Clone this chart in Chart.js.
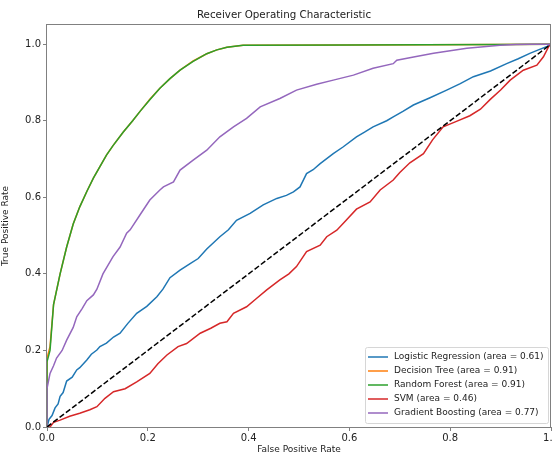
<!DOCTYPE html>
<html>
<head>
<meta charset="utf-8">
<script src="https://cdn.jsdelivr.net/npm/chart.js@4"></script>
<style>
  html, body { margin: 0; padding: 0; background: #fff; }
  #wrap { width: 552px; height: 455px; }
</style>
</head>
<body>
<div id="wrap"><canvas id="rocChart"></canvas></div>
<script>
// ROC curve points (false positive rate / true positive rate)
const lrFpr = [0, 0.004, 0.01, 0.016, 0.022, 0.026, 0.032, 0.039, 0.05, 0.059, 0.065, 0.079, 0.088, 0.099, 0.105, 0.118, 0.132, 0.145, 0.16, 0.178, 0.198, 0.218, 0.23, 0.244, 0.264, 0.284, 0.3, 0.317, 0.343, 0.36, 0.376, 0.403, 0.429, 0.456, 0.475, 0.489, 0.502, 0.515, 0.528, 0.542, 0.568, 0.588, 0.614, 0.63, 0.647, 0.674, 0.687, 0.707, 0.727, 0.76, 0.793, 0.82, 0.846, 0.88, 0.912, 0.935, 0.958, 0.975, 0.991, 1.0];
const lrTpr = [0, 0.02, 0.03, 0.05, 0.06, 0.08, 0.09, 0.12, 0.13, 0.149, 0.155, 0.175, 0.19, 0.201, 0.21, 0.219, 0.235, 0.245, 0.27, 0.297, 0.315, 0.34, 0.36, 0.39, 0.41, 0.427, 0.44, 0.465, 0.497, 0.515, 0.54, 0.558, 0.58, 0.597, 0.605, 0.614, 0.627, 0.662, 0.672, 0.688, 0.714, 0.732, 0.758, 0.77, 0.784, 0.8, 0.81, 0.825, 0.841, 0.86, 0.88, 0.897, 0.915, 0.93, 0.949, 0.962, 0.976, 0.985, 0.993, 1.0];

const dtFpr = [0, 0, 0.006, 0.013, 0.026, 0.039, 0.052, 0.065, 0.079, 0.092, 0.105, 0.118, 0.131, 0.151, 0.17, 0.185, 0.204, 0.224, 0.244, 0.264, 0.29, 0.317, 0.337, 0.357, 0.389, 0.6, 0.9, 1.0];
const dtTpr = [0, 0.18, 0.21, 0.32, 0.4, 0.47, 0.53, 0.575, 0.615, 0.65, 0.68, 0.71, 0.735, 0.77, 0.8, 0.825, 0.856, 0.885, 0.91, 0.932, 0.956, 0.975, 0.985, 0.992, 0.997, 0.998, 0.999, 1.0];

const rfFpr = [0, 0, 0.006, 0.013, 0.026, 0.039, 0.052, 0.065, 0.079, 0.092, 0.105, 0.118, 0.131, 0.151, 0.17, 0.185, 0.204, 0.224, 0.244, 0.264, 0.29, 0.317, 0.337, 0.357, 0.389, 0.6, 0.9, 1.0];
const rfTpr = [0, 0.17, 0.2, 0.32, 0.4, 0.47, 0.53, 0.575, 0.615, 0.65, 0.68, 0.71, 0.735, 0.77, 0.8, 0.825, 0.855, 0.885, 0.91, 0.932, 0.955, 0.975, 0.985, 0.992, 0.997, 0.998, 0.999, 1.0];

const svmFpr = [0, 0.006, 0.013, 0.026, 0.045, 0.065, 0.085, 0.099, 0.115, 0.132, 0.155, 0.178, 0.204, 0.22, 0.238, 0.26, 0.277, 0.304, 0.325, 0.343, 0.357, 0.37, 0.396, 0.415, 0.436, 0.462, 0.48, 0.495, 0.515, 0.542, 0.555, 0.575, 0.588, 0.614, 0.641, 0.661, 0.687, 0.70, 0.72, 0.747, 0.765, 0.786, 0.81, 0.839, 0.86, 0.879, 0.9, 0.919, 0.945, 0.972, 0.985, 0.995, 1.0];
const svmTpr = [0, 0, 0.012, 0.018, 0.028, 0.036, 0.045, 0.053, 0.075, 0.092, 0.1, 0.118, 0.14, 0.165, 0.188, 0.21, 0.218, 0.245, 0.258, 0.271, 0.275, 0.297, 0.314, 0.335, 0.358, 0.384, 0.4, 0.419, 0.458, 0.475, 0.497, 0.514, 0.532, 0.569, 0.588, 0.619, 0.645, 0.665, 0.69, 0.714, 0.75, 0.784, 0.797, 0.813, 0.83, 0.855, 0.88, 0.906, 0.932, 0.945, 0.967, 0.993, 1.0];

const gbFpr = [0, 0, 0.006, 0.013, 0.019, 0.03, 0.039, 0.052, 0.059, 0.07, 0.079, 0.092, 0.099, 0.111, 0.131, 0.145, 0.158, 0.165, 0.185, 0.204, 0.224, 0.231, 0.251, 0.264, 0.29, 0.317, 0.343, 0.37, 0.396, 0.423, 0.462, 0.495, 0.535, 0.568, 0.608, 0.647, 0.687, 0.694, 0.73, 0.767, 0.8, 0.833, 0.866, 0.899, 0.93, 0.96, 1.0];
const gbTpr = [0, 0.1, 0.14, 0.16, 0.18, 0.2, 0.227, 0.26, 0.288, 0.31, 0.33, 0.345, 0.36, 0.4, 0.445, 0.47, 0.506, 0.515, 0.555, 0.593, 0.619, 0.627, 0.64, 0.671, 0.697, 0.723, 0.758, 0.784, 0.806, 0.836, 0.858, 0.88, 0.895, 0.906, 0.919, 0.937, 0.949, 0.958, 0.967, 0.976, 0.983, 0.989, 0.993, 0.997, 0.999, 1.0, 1.0];

const chanceLine = [0, 1];

const seriesNames = ['Logistic Regression', 'Decision Tree', 'Random Forest', 'SVM', 'Gradient Boosting'];
const aucValues = [0.61, 0.91, 0.91, 0.46, 0.77];
const seriesColors = ['#1f77b4', '#ff7f0e', '#2ca02c', '#d62728', '#9467bd'];

const tickValues = [0, 0.2, 0.4, 0.6, 0.8, 1.0];
const chartTitle = 'Receiver Operating Characteristic';

function toPoints(xs, ys) {
    return xs.map((x, i) => ({ x: x, y: ys[i] }));
}

const curves = [
    toPoints(lrFpr, lrTpr),
    toPoints(dtFpr, dtTpr),
    toPoints(rfFpr, rfTpr),
    toPoints(svmFpr, svmTpr),
    toPoints(gbFpr, gbTpr)
];

const datasets = curves.map((pts, i) => ({
    label: seriesNames[i] + ' (area = ' + aucValues[i].toFixed(2) + ')',
    data: pts,
    borderColor: seriesColors[i],
    backgroundColor: seriesColors[i],
    borderWidth: 1.5,
    pointRadius: 0,
    fill: false,
    tension: 0,
    order: 6 - i   // 後に描いた線が上に来るように
}));
datasets.push({
    label: '',
    data: toPoints(chanceLine, chanceLine),
    borderColor: '#000',
    borderWidth: 1.5,
    borderDash: [5.5, 2.4],
    pointRadius: 0,
    fill: false,
    order: 0
});

const FONT = "'DejaVu Sans', sans-serif";

/*------------------------------------------------
    枠線・タイトル・凡例(右下・プロット内)
------------------------------------------------*/
const framePlugin = {
    id: 'frame',
    afterDatasetsDraw(chart) {
        const ctx = chart.ctx;
        const a = chart.chartArea;
        ctx.save();
        ctx.strokeStyle = '#808080';
        ctx.lineWidth = 1;
        ctx.strokeRect(Math.round(a.left) - 0.5, Math.round(a.top) - 0.5, Math.round(a.right - a.left), Math.round(a.bottom - a.top) + 1);
        ctx.fillStyle = '#222';
        ctx.font = '10.3px ' + FONT;
        ctx.textAlign = 'center';
        ctx.textBaseline = 'middle';
        ctx.fillText(chartTitle, 284, 15);
        ctx.restore();
    }
};

const legendPlugin = {
    id: 'innerLegend',
    afterDraw(chart) {
        const ctx = chart.ctx;
        const a = chart.chartArea;
        const items = chart.data.datasets.slice(0, 5);
        const rowH = 14;
        const boxW = 183, boxH = 76;
        const x0 = a.right - 3 - boxW;
        const y0 = a.bottom - 4 - boxH;
        ctx.save();
        ctx.fillStyle = 'rgba(255,255,255,0.8)';
        ctx.strokeStyle = '#d6d6d6';
        ctx.lineWidth = 1;
        ctx.beginPath();
        ctx.roundRect(x0 + 0.5, y0 + 0.5, boxW, boxH, 2);
        ctx.fill();
        ctx.stroke();
        ctx.font = '9px ' + FONT;
        ctx.textBaseline = 'middle';
        items.forEach((ds, i) => {
            const y = y0 + 10 + i * rowH;
            ctx.strokeStyle = ds.borderColor;
            ctx.lineWidth = 1.5;
            ctx.beginPath();
            ctx.moveTo(x0 + 3, y);
            ctx.lineTo(x0 + 23, y);
            ctx.stroke();
            ctx.fillStyle = '#222';
            ctx.fillText(ds.label, x0 + 29, y);
        });
        ctx.restore();
    }
};

const ctx = document.getElementById('rocChart').getContext('2d');
const rocChart = new Chart(ctx, {
    type: 'line',
    data: { datasets: datasets },
    options: {
        responsive: true,
        maintainAspectRatio: false,
        animation: false,
        layout: { padding: { left: 0, right: 1, top: 25, bottom: 0 } },
        plugins: {
            legend: { display: false },
            tooltip: { enabled: false },
            title: { display: false }
        },
        scales: {
            x: {
                type: 'linear',
                min: 0,
                max: 1,
                afterBuildTicks: scale => { scale.ticks = tickValues.map(v => ({ value: v })); },
                afterFit: scale => { scale.height = 28; scale.paddingLeft = 0; scale.paddingRight = 0; },
                ticks: {
                    color: '#222',
                    font: { family: FONT, size: 10 },
                    padding: 1,
                    maxRotation: 0,
                    callback: v => v.toFixed(1)
                },
                grid: { display: true, drawOnChartArea: false, tickLength: 4, color: '#808080' },
                border: { display: false },
                title: {
                    display: true,
                    text: 'False Positive Rate',
                    color: '#222',
                    font: { family: FONT, size: 9 },
                    padding: { top: 0, bottom: 0 }
                }
            },
            y: {
                type: 'linear',
                min: 0,
                max: 1.05,
                afterBuildTicks: scale => { scale.ticks = tickValues.map(v => ({ value: v })); },
                afterFit: scale => { scale.width = 47; scale.paddingTop = 0; scale.paddingBottom = 0; },
                ticks: {
                    color: '#222',
                    font: { family: FONT, size: 10 },
                    padding: 2,
                    callback: v => v.toFixed(1)
                },
                grid: { display: true, drawOnChartArea: false, tickLength: 4, color: '#808080' },
                border: { display: false },
                title: {
                    display: true,
                    text: 'True Positive Rate',
                    color: '#222',
                    font: { family: FONT, size: 9 },
                    padding: { top: 0, bottom: 0 }
                }
            }
        }
    },
    plugins: [framePlugin, legendPlugin]
});
</script>
</body>
</html>
